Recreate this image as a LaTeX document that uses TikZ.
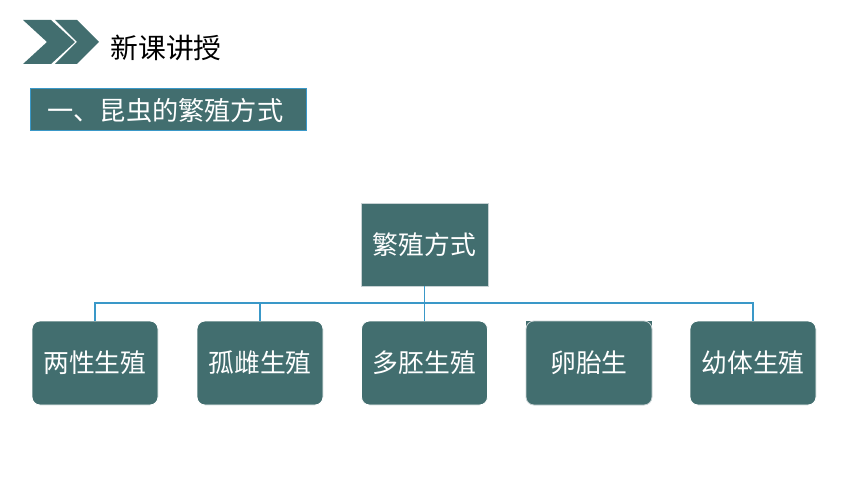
\documentclass[tikz,border=0pt]{standalone}
\usepackage{fontspec}
\setmainfont{Noto Sans CJK SC}
\usetikzlibrary{backgrounds}
\definecolor{tealbox}{RGB}{66,110,111}
\definecolor{linkblue}{RGB}{58,152,200}
\definecolor{edgegray}{RGB}{200,210,212}
\tikzset{
    leaf/.style={fill=tealbox, draw=white, line width=0.8pt, rounded corners=8pt,
        minimum width=126pt, minimum height=84pt, text=white, font=\fontsize{25.8}{25.8}\selectfont, inner sep=0pt},
    link/.style={draw=linkblue, line width=1.2pt}
}
\begin{document}
\begin{tikzpicture}[x=1pt,y=-1pt]
    \useasboundingbox (0,0) rectangle (860,484);
    % heading
    \fill[tealbox] (23,20) -- (51,20) -- (75,42) -- (51,64) -- (23,64) -- (47,42) -- cycle;
    \fill[tealbox] (55,20) -- (77,20) -- (99,42) -- (77,64) -- (55,64) -- (77,42) -- cycle;
    \node[anchor=west, font=\fontsize{27.8}{27.8}\selectfont] (title) at (107,48) {新课讲授};
    \node[fill=tealbox, draw=linkblue, line width=0.8pt, minimum width=276pt, minimum height=42pt,
        inner sep=0pt] (banner) at (168,109) {};
    \node[text=white, anchor=west, font=\fontsize{26.2}{26.2}\selectfont] (bannertxt) at (44,111) {一、昆虫的繁殖方式};

    % tree
    \node[fill=tealbox, draw=edgegray, line width=0.8pt, minimum width=127pt, minimum height=83pt,
        text=white, font=\fontsize{25.8}{25.8}\selectfont, inner sep=0pt] (root) at (424.5,244.5) {繁殖方式};
    \node[leaf] (b1) at (95,363) {两性生殖};
    \node[leaf] (b2) at (260,363) {孤雌生殖};
    \node[leaf] (b3) at (424.5,363) {多胚生殖};
    \node[leaf, draw=edgegray] (b4) at (589,363) {卵胎生};
    \node[leaf] (b5) at (753,363) {幼体生殖};
    \begin{scope}[on background layer]
        \fill[tealbox] (b4.north west) rectangle (b4.east);
    \end{scope}

    \coordinate (bar) at (424.5,303);
    \draw[link] (root.south) -- (b3.north);
    \draw[link] (b1.north) |- (bar) -| (b5.north);
    \draw[link] (b2.north) -- (b2.north |- bar);
\end{tikzpicture}
\end{document}
